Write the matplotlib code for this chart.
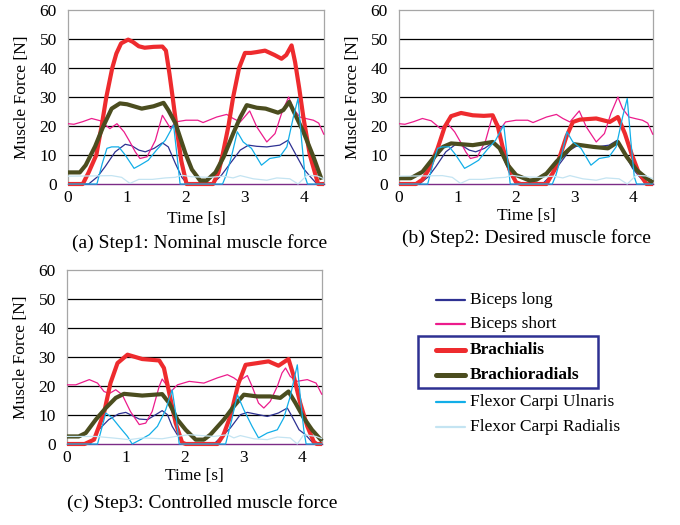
import matplotlib
matplotlib.use("Agg")
import matplotlib.pyplot as plt
from matplotlib.lines import Line2D
from matplotlib.patches import Rectangle

plt.rcParams["font.family"] = ["Liberation Serif", "DejaVu Serif"]

# thin muscles, shared by panels (a) and (b)
ab_biceps_long_t = [0, 0.35, 0.5, 0.63, 0.8, 0.97, 1.08, 1.2, 1.31, 1.46, 1.6, 1.7, 1.82, 1.93, 2.02,
                    2.45, 2.6, 2.75, 2.92, 3.06, 3.2, 3.37, 3.59, 3.73, 3.85, 3.99, 4.1, 4.22, 4.34]
ab_biceps_long = [0, 0, 2.5, 6, 11.1, 13.7, 13.2, 11.7, 11.1, 12.3, 14.2, 12.8, 7.1, 2.3, 0,
                  0, 3, 7.1, 11.7, 13.4, 13, 12.8, 13.4, 15.1, 10.6, 5.4, 2.7, 0, 0]
ab_biceps_short_t = [0, 0.1, 0.25, 0.4, 0.55, 0.71, 0.83, 0.95, 1.05, 1.14, 1.22, 1.34, 1.48, 1.6, 1.74,
                     1.82, 2.0, 2.2, 2.29, 2.52, 2.69, 2.8, 2.92, 3.08, 3.2, 3.37, 3.51, 3.62, 3.74,
                     3.82, 3.93, 4.05, 4.16, 4.25, 4.34]
ab_biceps_short = [20.8, 20.6, 21.5, 22.6, 21.8, 19.1, 20.8, 18, 14.5, 11.1, 8.8, 9.4, 15, 23.7, 19.1,
                   21.4, 22, 22, 21.2, 23.1, 24, 22.6, 21.4, 25.2, 19.7, 14.5, 17.4, 24.3, 30,
                   26, 23.1, 22.5, 22, 21, 17]
ab_ulnaris_t = [0, 0.49, 0.58, 0.66, 0.74, 0.86, 0.97, 1.12, 1.22, 1.36, 1.5, 1.65, 1.79, 1.85, 1.9,
                2.62, 2.68, 2.77, 2.87, 2.97, 3.11, 3.28, 3.42, 3.59, 3.71, 3.82, 3.9, 3.96, 4.02, 4.06, 4.34]
ab_ulnaris = [0, 0, 7, 12.3, 12.8, 12.8, 10, 5.4, 6.5, 8.2, 11.7, 15.1, 20.3, 9.4, 0,
              0, 3, 9.4, 18, 14.5, 12.3, 6.5, 8.8, 9.4, 12.8, 23.1, 29.5, 15.1, 2.5, 0, 0]
ab_radialis_t = [0, 0.45, 0.74, 0.91, 1.05, 1.2, 1.43, 1.65, 1.82, 1.93, 2.1, 2.41, 2.63, 2.8, 2.92,
                 3.14, 3.37, 3.54, 3.76, 3.9, 4.05, 4.22, 4.34]
ab_radialis = [2.7, 2.8, 2.9, 2.3, 0.2, 1.6, 1.6, 2.1, 2.3, 3.0, 2.5, 2.3, 2.7, 2.1, 2.9,
               1.8, 1.3, 2.1, 1.8, 0, 3.0, 2.8, 1.8]

# (a) nominal
a_brachialis_t = [0, 0.25, 0.35, 0.48, 0.57, 0.65, 0.75, 0.82, 0.9, 1.02, 1.1, 1.2, 1.3, 1.45, 1.6, 1.66,
                  1.72, 1.78, 1.85, 1.92, 2.01, 2.46, 2.55, 2.62, 2.72, 2.8, 2.9, 3.0, 3.1, 3.2, 3.34,
                  3.5, 3.62, 3.7, 3.79, 3.85, 3.92, 3.99, 4.1, 4.24, 4.34]
a_brachialis = [0, 0, 4, 10, 20, 30, 40, 45, 48.5, 49.8, 49, 47.5, 47, 47.3, 47.4, 46,
                38, 29, 18, 8, 0, 0, 4, 10, 20, 30, 40, 45.2, 45.2, 45.5, 46,
                44.5, 43.2, 44.5, 47.8, 42, 33, 23, 10, 0, 0]
a_brachiorad_t = [0, 0.2, 0.3, 0.46, 0.6, 0.74, 0.88, 1.0, 1.25, 1.45, 1.62, 1.7, 1.82, 1.99, 2.1, 2.24,
                  2.35, 2.5, 2.64, 2.8, 2.92, 3.03, 3.2, 3.35, 3.56, 3.65, 3.75, 3.85, 3.99, 4.16, 4.3]
a_brachiorad = [4, 4, 6.5, 13, 20, 26, 27.8, 27.5, 26, 26.8, 28, 25.5, 21, 10.6, 5, 1.2,
                1.2, 4, 9.4, 17.4, 23, 27.2, 26.3, 26, 24.6, 25.5, 28.3, 24, 18, 9.4, 1.5]

# (b) desired
b_brachialis_t = [0, 0.29, 0.4, 0.52, 0.66, 0.78, 0.89, 1.06, 1.26, 1.45, 1.6, 1.69, 1.77, 1.89, 2.0, 2.08,
                  2.52, 2.69, 2.86, 2.97, 3.09, 3.37, 3.6, 3.74, 3.86, 3.97, 4.09, 4.23, 4.34]
b_brachialis = [0, 0, 1.5, 5.4, 12.3, 19.7, 23.4, 24.5, 23.7, 23.5, 23.7, 19.7, 12.8, 4.8, 0.6, 0,
                0, 6, 16.3, 21.4, 22.2, 22.6, 21.4, 23.1, 17.4, 10.6, 4.2, 0, 0]
b_brachiorad_t = [0, 0.2, 0.4, 0.58, 0.75, 0.89, 1.26, 1.6, 1.72, 1.86, 2.0, 2.23, 2.35, 2.52, 2.69,
                  2.86, 3.0, 3.32, 3.57, 3.74, 3.89, 4.06, 4.23, 4.34]
b_brachiorad = [2, 2, 4.2, 8.8, 12.8, 14, 13.4, 14.5, 12.3, 6.5, 3.1, 1.2, 1.5, 3.6, 7.7,
                11.1, 13.7, 12.8, 12.3, 14.5, 9.4, 4.8, 2, 0.5]

# (c) controlled
c_brachialis_t = [0, 0.3, 0.46, 0.63, 0.74, 0.86, 1.03, 1.28, 1.57, 1.65, 1.74, 1.85, 1.96, 2.02, 2.56,
                  2.66, 2.78, 2.92, 3.04, 3.24, 3.43, 3.6, 3.77, 3.86, 3.97, 4.09, 4.2, 4.25, 4.34]
c_brachialis = [0, 0, 1.5, 10.7, 21, 27.9, 30.8, 29.3, 28.8, 26.2, 17.6, 7.2, 0.5, 0, 0,
                3, 9.5, 21, 27.3, 27.9, 28.5, 27, 29.3, 23.3, 14.1, 6.1, 0.8, 0, 0]
c_brachiorad_t = [0, 0.2, 0.32, 0.49, 0.66, 0.83, 0.97, 1.28, 1.62, 1.74, 1.88, 2.02, 2.19, 2.33, 2.44,
                  2.67, 2.84, 3.01, 3.24, 3.46, 3.63, 3.77, 3.89, 4.03, 4.17, 4.34]
c_brachiorad = [2.6, 2.6, 3.8, 8.4, 12.4, 15.9, 17.3, 16.7, 17.2, 14.1, 8.4, 4.9, 1.5, 1.5, 3.2,
                8.4, 13, 17, 16.4, 16.4, 15.9, 18.1, 14.1, 9, 4.9, 1]
c_biceps_short_t = [0, 0.15, 0.38, 0.52, 0.63, 0.72, 0.83, 0.94, 1.08, 1.23, 1.34, 1.45, 1.57, 1.62, 1.71,
                    1.77, 1.88, 2.08, 2.33, 2.56, 2.73, 2.84, 2.92, 3.07, 3.15, 3.26, 3.35, 3.46, 3.58,
                    3.66, 3.72, 3.8, 3.91, 4.09, 4.24, 4.34]
c_biceps_short = [20.4, 20.4, 22.2, 21, 18.1, 17.4, 18.7, 17, 11.2, 6.7, 7.2, 11.2, 19.9, 22.4, 19.9,
                  18.1, 20.4, 21.6, 21, 22.8, 23.9, 22.8, 21.6, 23.6, 19.9, 14.1, 12.4, 14.7, 19.9,
                  24.5, 26.2, 23.3, 21.6, 22.2, 21, 17]
c_biceps_long_t = [0, 0.4, 0.54, 0.71, 0.88, 1.0, 1.23, 1.37, 1.51, 1.62, 1.71, 1.79, 1.91, 2.0, 2.5,
                   2.78, 2.95, 3.07, 3.41, 3.6, 3.75, 3.83, 3.95, 4.06, 4.2, 4.34]
c_biceps_long = [0, 0, 4.9, 8.4, 10.4, 10.9, 8.6, 8.4, 10.1, 11.5, 10.1, 6.1, 2.1, 0, 0,
                 5.5, 10.1, 10.9, 9.5, 10.7, 12.4, 9.5, 4.9, 3.2, 0, 0]
c_ulnaris_t = [0, 0.52, 0.6, 0.66, 0.77, 0.91, 1.03, 1.11, 1.25, 1.4, 1.54, 1.68, 1.79, 1.85, 1.91,
               2.7, 2.8, 2.9, 3.01, 3.15, 3.26, 3.41, 3.58, 3.69, 3.8, 3.92, 3.97, 4.03, 4.07, 4.34]
c_ulnaris = [0, 0, 6.1, 10.7, 9, 5.5, 2.6, 0, 1.5, 3.2, 6.1, 11.8, 18.7, 10.7, 0,
             0, 8, 17, 11.8, 6.1, 2.1, 3.8, 4.9, 9, 16.4, 27.3, 16.4, 4.9, 0, 0]
c_radialis_t = [0, 0.49, 0.77, 1.06, 1.28, 1.62, 1.85, 2.08, 2.5, 2.73, 2.84, 2.95, 3.18, 3.41, 3.58,
                3.8, 3.92, 4.03, 4.24, 4.34]
c_radialis = [2.6, 2.6, 2.1, 1.5, 2.1, 1.8, 2.6, 3.2, 2.6, 3.2, 2.1, 2.9, 1.8, 1.5, 2.4,
              2.1, 0, 3.2, 2.6, 1.8]

names = ["Biceps long", "Biceps short", "Brachialis", "Brachioradials",
         "Flexor Carpi Ulnaris", "Flexor Carpi Radialis"]
colors = ["#2e3192", "#ec1c8c", "#ee2b2e", "#4b4d1f", "#12aee8", "#c4e4f2"]
widths = [0.9, 0.9, 3.0, 3.0, 0.9, 0.9]

panels = [
    ([0.100, 0.6495, 0.3765, 0.3314], "(a) Step1: Nominal muscle force", (0.294, 0.537), -0.2,
     [(ab_biceps_long_t, ab_biceps_long), (ab_biceps_short_t, ab_biceps_short),
      (a_brachialis_t, a_brachialis), (a_brachiorad_t, a_brachiorad),
      (ab_ulnaris_t, ab_ulnaris), (ab_radialis_t, ab_radialis)]),
    ([0.5868, 0.6495, 0.3735, 0.3314], "(b) Step2: Desired muscle force", (0.774, 0.547), -0.185,
     [(ab_biceps_long_t, ab_biceps_long), (ab_biceps_short_t, ab_biceps_short),
      (b_brachialis_t, b_brachialis), (b_brachiorad_t, b_brachiorad),
      (ab_ulnaris_t, ab_ulnaris), (ab_radialis_t, ab_radialis)]),
    ([0.0985, 0.1543, 0.3750, 0.3314], "(c) Step3: Controlled muscle force", (0.297, 0.042), -0.185,
     [(c_biceps_long_t, c_biceps_long), (c_biceps_short_t, c_biceps_short),
      (c_brachialis_t, c_brachialis), (c_brachiorad_t, c_brachiorad),
      (c_ulnaris_t, c_ulnaris), (c_radialis_t, c_radialis)]),
]

fig = plt.figure(figsize=(6.8, 5.25), dpi=100)

for rect, caption, cap_xy, xlab_y, series in panels:
    ax = fig.add_axes(rect)
    for y in range(10, 60, 10):
        ax.axhline(y, color="black", lw=0.9, zorder=1)
    for (t, v), c, w in zip(series, colors, widths):
        ax.plot(t, v, color=c, lw=w, solid_capstyle="butt", clip_on=False, zorder=3)
    ax.set_xlim(0, 4.34)
    ax.set_ylim(0, 60)
    ax.set_xticks(range(0, 5))
    ax.set_yticks(range(0, 61, 10))
    ax.tick_params(length=0, labelsize=12.5)
    ax.tick_params(axis="y", pad=8)
    ax.tick_params(axis="x", pad=4)
    for side in ("left", "right", "top"):
        ax.spines[side].set_color("#a6a6a6")
        ax.spines[side].set_linewidth(0.9)
    ax.spines["bottom"].set_color("#7b2c86")
    ax.spines["bottom"].set_linewidth(1.0)
    ax.set_xlabel("Time [s]", fontsize=12.5)
    ax.set_ylabel("Muscle Force [N]", fontsize=12.5)
    ax.xaxis.set_label_coords(0.5, xlab_y)
    ax.xaxis.label.set_va("center")
    ax.yaxis.set_label_coords(-0.18, 0.5)
    ax.yaxis.label.set_va("center")
    fig.text(cap_xy[0], cap_xy[1], caption, fontsize=14, ha="center", va="center")

# legend
row_y = [300, 324, 350, 375, 402, 427]
for name, c, w, yp in zip(names, colors, widths, row_y):
    yf = 1 - yp / 525
    fig.add_artist(Line2D([436 / 680, 465 / 680], [yf, yf], color=c,
                          lw=w + 0.6 if w > 1 else 1.6, solid_capstyle="round"))
    bold = name in ("Brachialis", "Brachioradials")
    fig.text(470 / 680, yf, name, fontsize=12.5, va="center", ha="left",
             fontweight="bold" if bold else "normal")
fig.add_artist(Rectangle((418 / 680, 1 - 388 / 525), 180 / 680, 52 / 525, fill=False,
                         edgecolor="#2e3192", lw=1.8))

fig.savefig("out.png", dpi=100)
